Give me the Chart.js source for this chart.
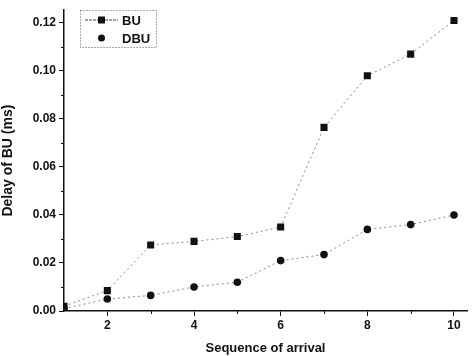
<!DOCTYPE html>
<html>
<head>
<meta charset="utf-8">
<script src="https://cdn.jsdelivr.net/npm/chart.js@4"></script>
<style>
  html, body { margin: 0; padding: 0; background: #fff; }
  #c { display: block; }
</style>
</head>
<body>
<canvas id="c" width="472" height="356"></canvas>
<script>
// dados
const sequencia = [1, 2, 3, 4, 5, 6, 7, 8, 9, 10];
const atrasoBU = [0.002, 0.0085, 0.0275, 0.029, 0.031, 0.035, 0.0765, 0.098, 0.107, 0.121];
const atrasoDBU = [0.001, 0.005, 0.0065, 0.010, 0.012, 0.021, 0.0235, 0.034, 0.036, 0.040];
const ticksY = [0, 0.02, 0.04, 0.06, 0.08, 0.10, 0.12];
const ticksX = [2, 4, 6, 8, 10];
const minorY = [0.01, 0.03, 0.05, 0.07, 0.09, 0.11];
const minorX = [3, 5, 7, 9];

const fonte = 'Liberation Sans, Arial, sans-serif';

function pontos(valores) {
    return sequencia.map((x, i) => ({ x: x, y: valores[i] }));
}

// ticks menores, posicionados pelas escalas do Chart.js
const ticksMenores = {
    id: 'ticksMenores',
    afterDraw(chart) {
        const ctx = chart.ctx;
        const sx = chart.scales.x, sy = chart.scales.y;
        ctx.save();
        ctx.strokeStyle = '#111';
        ctx.lineWidth = 1;
        ctx.beginPath();
        minorY.forEach(v => {
            const y = Math.round(sy.getPixelForValue(v)) + 0.5;
            ctx.moveTo(sx.left - 3, y);
            ctx.lineTo(sx.left, y);
        });
        minorX.forEach(v => {
            const x = Math.round(sx.getPixelForValue(v)) + 0.5;
            ctx.moveTo(x, sy.bottom);
            ctx.lineTo(x, sy.bottom + 3);
        });
        ctx.stroke();
        ctx.restore();
    }
};

// legenda desenhada à mão, com caixa pontilhada
const legendaPlugin = {
    id: 'legenda',
    afterDraw(chart) {
        const ctx = chart.ctx;
        ctx.save();
        ctx.strokeStyle = '#555';
        ctx.lineWidth = 1;
        ctx.setLineDash([1, 2]);
        ctx.strokeRect(80.5, 10.5, 76, 37);
        ctx.setLineDash([]);
        ctx.font = 'bold 13px ' + fonte;
        ctx.textBaseline = 'middle';
        chart.data.datasets.forEach((ds, i) => {
            const y = 20 + i * 18;
            if (ds.legendaLinha) {
                ctx.strokeStyle = '#444';
                ctx.setLineDash([3, 1]);
                ctx.beginPath();
                ctx.moveTo(85, y);
                ctx.lineTo(118, y);
                ctx.stroke();
                ctx.setLineDash([]);
            }
            ctx.fillStyle = '#111';
            if (ds.pointStyle === 'rect') {
                ctx.fillRect(98, y - 3.5, 7, 7);
            } else {
                ctx.beginPath();
                ctx.arc(101.5, y, 3.5, 0, Math.PI * 2);
                ctx.fill();
            }
            ctx.fillText(ds.label, 122, y + 1);
        });
        ctx.restore();
    }
};

new Chart(document.getElementById('c'), {
    type: 'scatter',
    data: {
        datasets: [
            {
                label: 'BU',
                data: pontos(atrasoBU),
                showLine: true,
                legendaLinha: true,
                borderColor: '#888',
                borderWidth: 1,
                borderDash: [2, 3],
                pointStyle: 'rect',
                pointRadius: 5,
                backgroundColor: '#111',
                pointBorderColor: '#111',
                pointBorderWidth: 0
            },
            {
                label: 'DBU',
                data: pontos(atrasoDBU),
                showLine: true,
                legendaLinha: false,
                borderColor: '#888',
                borderWidth: 1,
                borderDash: [2, 3],
                pointStyle: 'circle',
                pointRadius: 3.8,
                backgroundColor: '#111',
                pointBorderColor: '#111',
                pointBorderWidth: 0
            }
        ]
    },
    options: {
        responsive: false,
        animation: false,
        layout: { padding: { top: 0, right: 0, left: 0, bottom: 0 } },
        plugins: {
            legend: { display: false },
            tooltip: { enabled: false }
        },
        scales: {
            x: {
                type: 'linear',
                min: 1,
                max: 10.3,
                afterBuildTicks: (axis) => { axis.ticks = ticksX.map(v => ({ value: v })); },
                afterFit: (axis) => { axis.height = 45; },
                grid: { display: true, drawOnChartArea: false, drawTicks: true, tickLength: 5, color: '#111' },
                border: { color: '#111', width: 1.5 },
                ticks: { color: '#111', font: { family: fonte, size: 12, weight: 'bold' }, padding: 2 },
                title: {
                    display: true,
                    text: 'Sequence of arrival',
                    color: '#111',
                    font: { family: fonte, size: 13, weight: 'bold' },
                    padding: { top: 6, bottom: 0 }
                }
            },
            y: {
                min: 0,
                max: 0.1253,
                afterBuildTicks: (axis) => { axis.ticks = ticksY.map(v => ({ value: v })); },
                afterFit: (axis) => { axis.width = 64; },
                grid: { display: true, drawOnChartArea: false, drawTicks: true, tickLength: 5, color: '#111' },
                border: { color: '#111', width: 1.5 },
                ticks: {
                    color: '#111',
                    font: { family: fonte, size: 12, weight: 'bold' },
                    padding: 3,
                    callback: (v) => v.toFixed(2)
                },
                title: {
                    display: true,
                    text: 'Delay of BU (ms)',
                    color: '#111',
                    font: { family: fonte, size: 14, weight: 'bold' },
                    padding: { top: 0, bottom: 2 }
                }
            }
        }
    },
    plugins: [ticksMenores, legendaPlugin]
});
</script>
</body>
</html>
